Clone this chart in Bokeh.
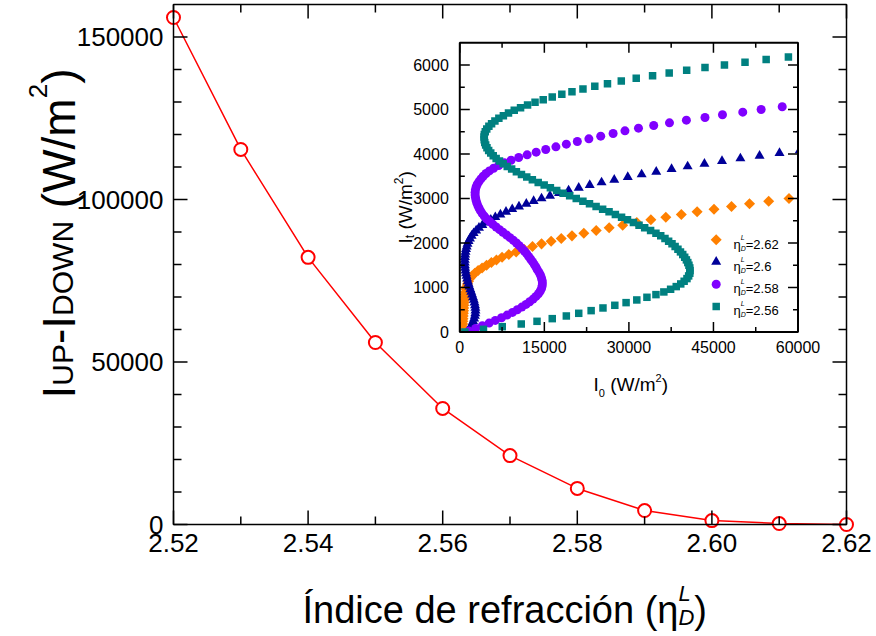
import math
from bokeh.plotting import figure
from bokeh.models import Range1d, Label
from bokeh.core.properties import value
from bokeh.embed import file_html
from bokeh.resources import INLINE

FONT = "Liberation Sans"

# ---------------- main chart data ----------------
eta_d = [2.52, 2.53, 2.54, 2.55, 2.56, 2.57, 2.58, 2.59, 2.60, 2.61, 2.62]
i_up_minus_down = [156000, 115400, 82200, 56000, 35700, 21200, 11100, 4300, 1200, 300, 0]
x_major = [2.52, 2.54, 2.56, 2.58, 2.60, 2.62]
x_minor = [2.53, 2.55, 2.57, 2.59, 2.61]
x_tick_labels = ["2.52", "2.54", "2.56", "2.58", "2.60", "2.62"]
y_major = [0, 50000, 100000, 150000]
y_minor = [10000, 20000, 30000, 40000, 60000, 70000, 80000, 90000,
           110000, 120000, 130000, 140000]
y_tick_labels = ["0", "50000", "100000", "150000"]

# ---------------- inset data (I0 vs It) ----------------
it_262 = [0, 60, 120, 180, 240, 300, 360, 420, 480, 540,
          600, 660, 720, 780, 840, 900, 960, 1020, 1080, 1140,
          1200, 1260, 1320, 1380, 1440, 1500, 1560, 1620, 1680, 1740,
          1800, 1860, 1920, 1980, 2040, 2100, 2160, 2220, 2280, 2340,
          2400, 2460, 2520, 2580, 2640, 2700, 2760, 2820, 2880, 2940,
          3000]
i0_262 = [350, 420, 470, 510, 540, 570, 600, 630, 660, 690,
          720, 770, 820, 880, 950, 1030, 1120, 1230, 1360, 1540,
          1780, 2150, 2650, 3250, 3950, 4750, 5600, 6500, 7500, 8700,
          10000, 11400, 12900, 14500, 16200, 18000, 19900, 22000, 24200, 26500,
          28900, 31400, 33900, 36550, 39300, 42100, 45100, 48200, 51400, 54800,
          58400]

it_260 = [0, 60, 120, 180, 240, 300, 360, 420, 480, 540,
          600, 660, 720, 780, 840, 900, 960, 1020, 1080, 1140,
          1200, 1260, 1320, 1380, 1440, 1500, 1560, 1620, 1680, 1740,
          1800, 1860, 1920, 1980, 2040, 2100, 2160, 2220, 2280, 2340,
          2400, 2460, 2520, 2580, 2640, 2700, 2760, 2820, 2880, 2940,
          3000, 3060, 3120, 3180, 3240, 3300, 3360, 3420, 3480, 3540,
          3600, 3660, 3720, 3780, 3840, 3900, 3960, 4020, 4080]
i0_260 = [1350, 1650, 1920, 2160, 2370, 2540, 2670, 2750, 2780, 2760,
          2700, 2610, 2490, 2350, 2190, 2030, 1870, 1710, 1560, 1420,
          1300, 1190, 1090, 1010, 950, 910, 890, 890, 910, 950,
          1010, 1100, 1220, 1370, 1560, 1800, 2100, 2450, 2900, 3400,
          4000, 4700, 5500, 6300, 7200, 8200, 9300, 10500, 11800, 13100,
          14500, 16000, 17600, 19300, 21100, 23050, 25150, 27400, 29800, 32260,
          34850, 37570, 40420, 43400, 46520, 49780, 53180, 56720, 60300]

it_258 = [20, 80, 140, 200, 260, 320, 380, 440, 500, 560,
          620, 680, 740, 800, 860, 920, 980, 1040, 1100, 1160,
          1220, 1280, 1340, 1400, 1460, 1520, 1580, 1640, 1700, 1760,
          1820, 1880, 1940, 2000, 2060, 2120, 2180, 2240, 2300, 2360,
          2420, 2480, 2540, 2600, 2660, 2720, 2780, 2840, 2900, 2960,
          3020, 3080, 3140, 3200, 3260, 3320, 3380, 3440, 3500, 3560,
          3620, 3680, 3740, 3800, 3860, 3920, 3980, 4040, 4100, 4160,
          4220, 4280, 4340, 4400, 4460, 4520, 4580, 4640, 4700, 4760,
          4820, 4880, 4940, 5000, 5060]
i0_258 = [1600, 2800, 4000, 5200, 6300, 7400, 8400, 9350, 10200, 11000,
          11750, 12400, 13000, 13520, 13950, 14280, 14500, 14620, 14650, 14600,
          14480, 14300, 14050, 13750, 13500, 13200, 12900, 12550, 12200, 11850,
          11450, 11000, 10550, 10050, 9500, 8900, 8300, 7650, 7050, 6450,
          5850, 5300, 4800, 4350, 3980, 3680, 3420, 3200, 3020, 2880,
          2780, 2720, 2720, 2780, 2900, 3100, 3400, 3750, 4150, 4650,
          5250, 6000, 6900, 7900, 9100, 10450, 11950, 13550, 15250, 17050,
          18900, 20850, 22900, 25000, 27200, 29300, 31700, 34400, 37200, 40200,
          43500, 46600, 50200, 53460, 57200]

it_256 = [0, 60, 120, 180, 240, 300, 360, 420, 480, 540,
          600, 660, 720, 780, 840, 900, 960, 1020, 1080, 1140,
          1200, 1260, 1320, 1380, 1440, 1500, 1560, 1620, 1680, 1740,
          1800, 1860, 1920, 1980, 2040, 2100, 2160, 2220, 2280, 2340,
          2400, 2460, 2520, 2580, 2640, 2700, 2760, 2820, 2880, 2940,
          3000, 3060, 3120, 3180, 3240, 3300, 3360, 3420, 3480, 3540,
          3600, 3660, 3720, 3780, 3840, 3900, 3960, 4020, 4080, 4140,
          4200, 4260, 4320, 4380, 4440, 4500, 4560, 4620, 4680, 4740,
          4800, 4860, 4920, 4980, 5040, 5100, 5160, 5220, 5280, 5340,
          5400, 5460, 5520, 5580, 5640, 5700, 5760, 5820, 5880, 5940,
          6000, 6060, 6120, 6180]
i0_256 = [900, 4200, 7530, 10900, 13700, 16400, 18900, 21100, 23300, 25400,
          27500, 29500, 31400, 33200, 34800, 36200, 37400, 38400, 39200, 39800,
          40300, 40600, 40800, 40850, 40800, 40650, 40450, 40200, 39900, 39550,
          39150, 38700, 38200, 37650, 37050, 36400, 35650, 34800, 33850, 32800,
          31800, 30800, 29750, 28700, 27600, 26480, 25340, 24180, 23010, 21840,
          20660, 19490, 18330, 17190, 16070, 14970, 13910, 12870, 11880, 10940,
          10040, 9200, 8420, 7700, 7040, 6450, 5930, 5490, 5120, 4820,
          4590, 4430, 4330, 4300, 4350, 4520, 4780, 5160, 5640, 6230,
          6930, 7730, 8640, 9660, 10780, 12020, 13350, 14800, 16400, 18100,
          19900, 21850, 23950, 26200, 28650, 31300, 34200, 37150, 40250, 43500,
          46950, 50600, 54350, 58300]

inset_x_ticks = [0, 15000, 30000, 45000, 60000]
inset_x_minor = [7500, 22500, 37500, 52500]
inset_x_labels = ["0", "15000", "30000", "45000", "60000"]
inset_y_ticks = [0, 1000, 2000, 3000, 4000, 5000, 6000]
inset_y_minor = [500, 1500, 2500, 3500, 4500, 5500]
inset_y_labels = ["0", "1000", "2000", "3000", "4000", "5000", "6000"]
legend_values = ["2.62", "2.6", "2.58", "2.56"]

ORANGE, NAVY, VIOLET, TEAL = "#FF8000", "#000099", "#8000FF", "#008080"

# ---------------- geometry (pixels of the main frame) ----------------
W, H = 876, 636
FL, FR, FT, FB = 173, 846, 4, 524
XMIN, XMAX, YMIN, YMAX = 2.52, 2.62, 0, 160000
kxm = (XMAX - XMIN) / (FR - FL)
kym = (YMAX - YMIN) / (FB - FT)


def dx(sx):
    return XMIN + (sx - FL) * kxm


def dy(sy):
    return YMIN + (FB - sy) * kym


p = figure(width=W, height=H,
           x_range=Range1d(dx(0), dx(W)), y_range=Range1d(dy(H), dy(0)),
           output_backend="svg", toolbar_location=None,
           x_axis_location=None, y_axis_location=None, min_border=0)
p.grid.visible = False
p.outline_line_color = None
p.background_fill_color = "white"
p.border_fill_color = "white"

# main series
p.line(eta_d, i_up_minus_down, line_color="#FF0000", line_width=1.5)
p.scatter(eta_d, i_up_minus_down, marker="circle", size=13, line_color="#FF0000",
          line_width=2, fill_color="white")

# main frame, ticks (inward on all four sides) and tick labels
p.quad(left=[XMIN], right=[XMAX], bottom=[YMIN], top=[YMAX], fill_color=None,
       line_color="black", line_width=1.5)


def main_ticks(vals, vertical, length):
    n = len(vals)
    if vertical:
        p.segment(x0=vals, x1=vals, y0=[YMIN] * n, y1=[YMIN + length * kym] * n,
                  line_color="black", line_width=1.5)
        p.segment(x0=vals, x1=vals, y0=[YMAX] * n, y1=[YMAX - length * kym] * n,
                  line_color="black", line_width=1.5)
    else:
        p.segment(y0=vals, y1=vals, x0=[XMIN] * n, x1=[XMIN + length * kxm] * n,
                  line_color="black", line_width=1.5)
        p.segment(y0=vals, y1=vals, x0=[XMAX] * n, x1=[XMAX - length * kxm] * n,
                  line_color="black", line_width=1.5)


main_ticks(x_major, True, 14)
main_ticks(x_minor, True, 8)
main_ticks(y_major, False, 14)
main_ticks(y_minor, False, 8)

p.text(x=x_major, y=[YMIN] * len(x_major), text=x_tick_labels, text_font=value(FONT),
       text_font_size="26px", text_color="black", text_align="center",
       text_baseline="top", y_offset=9)
p.text(x=[XMIN] * len(y_major), y=y_major, text=y_tick_labels, text_font=value(FONT),
       text_font_size="26px", text_color="black", text_align="right",
       text_baseline="middle", x_offset=-10)

# ---------------- inset ----------------
IX0, IX1, IY0, IY1 = 459.3, 797.5, 331.5, 42.2
IXMAX, IYMAX = 60000, 6500
ins = p.subplot(x_source=Range1d(0, IXMAX), y_source=Range1d(0, IYMAX),
                x_target=Range1d(dx(IX0), dx(IX1)), y_target=Range1d(dy(IY0), dy(IY1)))
kx = IXMAX / (IX1 - IX0)   # data units per px
ky = IYMAX / (IY0 - IY1)

ins.quad(left=[0], right=[IXMAX], bottom=[0], top=[IYMAX], fill_color="white", line_color=None)
ins.scatter(i0_262, it_262, marker="square", angle=math.pi / 4, size=7.8,
            fill_color=ORANGE, line_color=None)
ins.scatter(i0_260, it_260, marker="triangle", size=10, fill_color=NAVY, line_color=None)
ins.scatter(i0_258, it_258, marker="circle", size=9, fill_color=VIOLET, line_color=None)
ins.scatter(i0_256, it_256, marker="square", size=7.5, fill_color=TEAL, line_color=None)

# clip strips outside the inset frame
m = 11
ins.quad(left=[-m * kx, -m * kx, IXMAX], right=[0, IXMAX + m * kx, IXMAX + m * kx],
         bottom=[-m * ky, -m * ky, -m * ky], top=[IYMAX, 0, IYMAX],
         fill_color="white", line_color=None)

ins.quad(left=[0], right=[IXMAX], bottom=[0], top=[IYMAX], fill_color=None,
         line_color="black", line_width=2)


def tick_set(vals, horizontal, length):
    n = len(vals)
    if horizontal:  # ticks on left and right sides
        ins.segment(x0=[0] * n, x1=[length * kx] * n, y0=vals, y1=vals, line_color="black", line_width=1.5)
        ins.segment(x0=[IXMAX] * n, x1=[IXMAX - length * kx] * n, y0=vals, y1=vals,
                    line_color="black", line_width=1.5)
    else:
        ins.segment(x0=vals, x1=vals, y0=[0] * n, y1=[length * ky] * n, line_color="black", line_width=1.5)
        ins.segment(x0=vals, x1=vals, y0=[IYMAX] * n, y1=[IYMAX - length * ky] * n,
                    line_color="black", line_width=1.5)


tick_set(inset_x_ticks, False, 10)
tick_set(inset_x_minor, False, 5)
tick_set(inset_y_ticks, True, 10)
tick_set(inset_y_minor, True, 5)

ins.text(x=inset_x_ticks, y=[0] * len(inset_x_ticks), text=inset_x_labels,
         text_font=value(FONT), text_font_size="16px", text_color="black",
         text_align="center", text_baseline="top", y_offset=9)
ins.text(x=[0] * len(inset_y_ticks), y=inset_y_ticks, text=inset_y_labels,
         text_font=value(FONT), text_font_size="16px", text_color="black",
         text_align="right", text_baseline="middle", x_offset=-11)

# ---------------- rich text helper ----------------
ADV = {' ': 278, '(': 333, ')': 333, '-': 333, '/': 278, '.': 278, '=': 584,
       'I': 278, 'Í': 278, 'U': 722, 'P': 667, 'D': 722, 'O': 778, 'W': 944,
       'N': 722, 'L': 556, 'm': 833, 't': 278, 'n': 556, 'd': 556, 'i': 222,
       'c': 500, 'e': 556, 'r': 333, 'f': 278, 'a': 556, 'ó': 556, 'η': 556}


def twidth(s, size):
    return sum(ADV.get(c, 556) for c in s) / 1000.0 * size


def rich(pieces, sx, sy, angle=0.0):
    ca, sa = math.cos(angle), math.sin(angle)
    along = 0.0
    for text, size, shift, italic, adv in pieces:
        lead = len(text) - len(text.lstrip(" "))
        along += twidth(" " * lead, size)
        body = text.lstrip(" ")
        px = sx + along * ca - shift * sa
        py = sy - along * sa - shift * ca
        p.add_layout(Label(x=dx(px), y=dy(py), text=body, angle=angle,
                           text_font=FONT, text_font_size=f"{size}px",
                           text_font_style="italic" if italic else "normal",
                           text_align="left", text_baseline="alphabetic",
                           text_color="black"))
        if adv:
            along += twidth(body, size)


# main x title
rich([("Índice de refracción (", 38, 0, False, True),
      ("η", 38, 0, False, True),
      ("L", 22, 16, True, False),
      ("D", 22, -8, True, True),
      (")", 38, 0, False, True)], 302, 609)

# main y title
rich([("I", 46, 0, False, True),
      ("UP", 30, -4, False, True),
      ("-I", 46, 0, False, True),
      ("DOWN", 30, -4, False, True),
      (" (W/m", 46, 0, False, True),
      ("2", 26, 21, False, True),
      (")", 46, 0, False, True)], 58, 398, math.pi / 2)

# inset titles
rich([("I", 19, 0, False, True),
      ("0", 11, -8, False, True),
      (" (W/m", 19, 0, False, True),
      ("2", 11, 7, False, True),
      (")", 19, 0, False, True)], 593, 384)
rich([("I", 19, 0, False, True),
      ("t", 12, -4, False, True),
      (" (W/m", 19, 0, False, True),
      ("2", 12, 7, False, True),
      (")", 19, 0, False, True)], 405, 243, math.pi / 2)

# inset legend
leg_y = [239.3, 261.3, 283.7, 306.0]
leg_style = [dict(marker="square", angle=math.pi / 4, size=7.8, fill_color=ORANGE),
             dict(marker="triangle", size=10, fill_color=NAVY),
             dict(marker="circle", size=9, fill_color=VIOLET),
             dict(marker="square", size=7.5, fill_color=TEAL)]
for yy, st, lab in zip(leg_y, leg_style, legend_values):
    p.scatter([dx(715.7)], [dy(yy)], line_color=None, **st)
    rich([("η", 13, 0, False, True),
          ("L", 7, 7, True, False),
          ("D", 7, -4, True, True),
          ("=" + lab, 13, 0, False, True)], 733, yy + 4.3)

open("out.html", "w").write(file_html(p, INLINE))
